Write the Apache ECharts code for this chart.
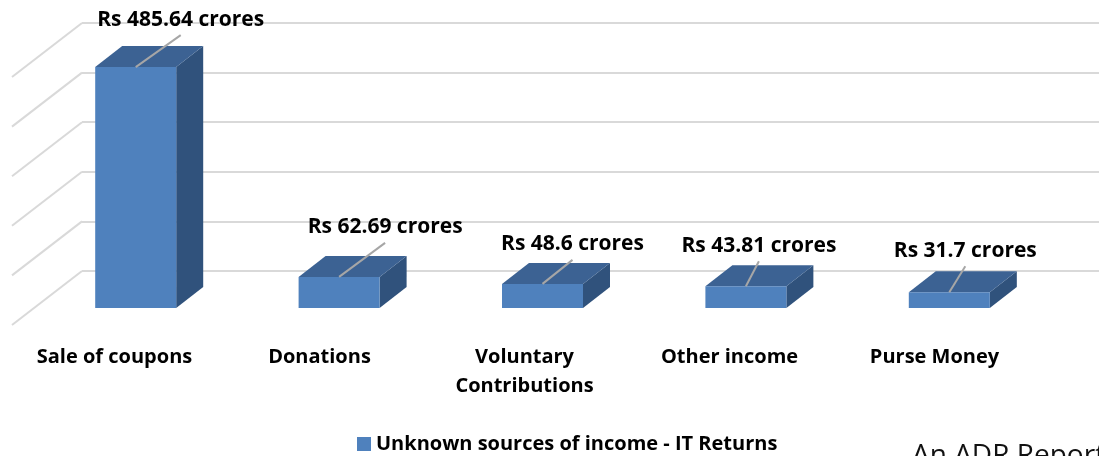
<!DOCTYPE html>
<html>
<head>
<meta charset="utf-8">
<script src="https://cdn.jsdelivr.net/npm/echarts@6/dist/echarts.min.js"></script>
<style>
html,body{margin:0;padding:0;background:#fff;}
#chart{width:1099px;height:456px;}
</style>
</head>
<body>
<div id="chart"></div>
<script>
// ---- data ----
const categories = ['Sale of coupons', 'Donations', 'Voluntary\nContributions', 'Other income', 'Purse Money'];
const values = [485.64, 62.69, 48.6, 43.81, 31.7];
const seriesName = 'Unknown sources of income - IT Returns';
const yTicks = [0, 100, 200, 300, 400, 500];

// ---- layout / style (not data) ----
const FONT = '"Open Sans", "Liberation Sans", sans-serif';
const FRONT_DX = -48, FRONT_DY = 37;     // bar front plane offset from back wall
const DEPTH_DX = 27, DEPTH_DY = -21;     // bar depth vector
const HALF_W = 40.5;
const FLOOR_DX = -70, FLOOR_DY = 54;     // wall-to-floor-front diagonal
const leader = [[45, -32], [46, -34], [30, -24], [13, -25], [16, -26]];

const chart = echarts.init(document.getElementById('chart'));

function barItem(params, api) {
  const idx = api.value(0), v = api.value(1);
  const top = api.coord([idx, v]);
  const base = api.coord([idx, 0]);
  const cx = top[0] + FRONT_DX;
  const yT = top[1] + FRONT_DY;
  const yB = base[1] + FRONT_DY;
  const l = cx - HALF_W, r = cx + HALF_W;
  const ld = leader[params.dataIndex];
  const ex = cx + ld[0], ey = yT + ld[1];
  return {
    type: 'group',
    children: [
      { type: 'polygon', shape: { points: [[r, yT], [r + DEPTH_DX, yT + DEPTH_DY], [r + DEPTH_DX, yB + DEPTH_DY], [r, yB]] },
        style: { fill: '#30527C' } },
      { type: 'polygon', shape: { points: [[l, yT], [r, yT], [r + DEPTH_DX, yT + DEPTH_DY], [l + DEPTH_DX, yT + DEPTH_DY]] },
        style: { fill: '#3C6293' } },
      { type: 'rect', shape: { x: l, y: yT, width: r - l, height: yB - yT },
        style: { fill: '#4F81BD' } },
      { type: 'line', shape: { x1: cx, y1: yT, x2: ex, y2: ey },
        style: { stroke: '#A6A6A6', lineWidth: 2 } },
      { type: 'text', x: ex, y: ey - 5,
        style: { text: 'Rs ' + v + ' crores', fill: '#000', font: 'bold 21px ' + FONT,
                 align: 'center', verticalAlign: 'bottom' } }
    ]
  };
}

function diagItem(params, api) {
  const v = api.value(1);
  const p = api.coord([0, v]);
  const x0 = params.coordSys.x;
  return {
    type: 'line',
    shape: { x1: x0, y1: p[1], x2: x0 + FLOOR_DX, y2: p[1] + FLOOR_DY },
    style: { stroke: '#D9D9D9', lineWidth: 2 }
  };
}

chart.setOption({
  backgroundColor: '#fff',
  animation: false,
  grid: [
    { left: 82, top: 23, width: 1025, height: 248 },
    { left: 82 + FLOOR_DX, top: 23 + FLOOR_DY, width: 1025, height: 248 }
  ],
  xAxis: [
    { type: 'category', gridIndex: 0, data: categories, axisLine: { show: false }, axisTick: { show: false },
      axisLabel: { show: false }, splitLine: { show: false } },
    { type: 'category', gridIndex: 1, data: categories, axisLine: { show: false }, axisTick: { show: false },
      splitLine: { show: false },
      axisLabel: { show: true, margin: 18, color: '#000', fontFamily: FONT, fontWeight: 'bold', fontSize: 20,
                   lineHeight: 29, interval: 0 } }
  ],
  yAxis: [
    { type: 'value', gridIndex: 0, min: 0, max: 500, interval: 100, axisLabel: { show: false },
      axisLine: { show: false }, axisTick: { show: false },
      splitLine: { show: true, lineStyle: { color: '#D9D9D9', width: 2 } } },
    { type: 'value', gridIndex: 1, min: 0, max: 500, interval: 100, show: false, splitLine: { show: false } }
  ],
  legend: {
    data: [seriesName], left: 357, top: 434, padding: 0, itemWidth: 14, itemHeight: 14, itemGap: 5,
    icon: 'rect', textStyle: { color: '#000', fontFamily: FONT, fontWeight: 'bold', fontSize: 20 }
  },
  graphic: [
    { type: 'text', left: 912, top: 442,
      style: { text: 'An ADR Report', fill: '#111', font: '28px ' + FONT } }
  ],
  series: [
    { type: 'custom', name: 'grid-diagonals', xAxisIndex: 0, yAxisIndex: 0, silent: true,
      data: yTicks.map(t => [0, t]), renderItem: diagItem, z: 1 },
    { type: 'custom', name: seriesName, xAxisIndex: 0, yAxisIndex: 0,
      itemStyle: { color: '#4F81BD' },
      data: values.map((v, i) => [i, v]), renderItem: barItem, z: 5 }
  ]
});
</script>
</body>
</html>
